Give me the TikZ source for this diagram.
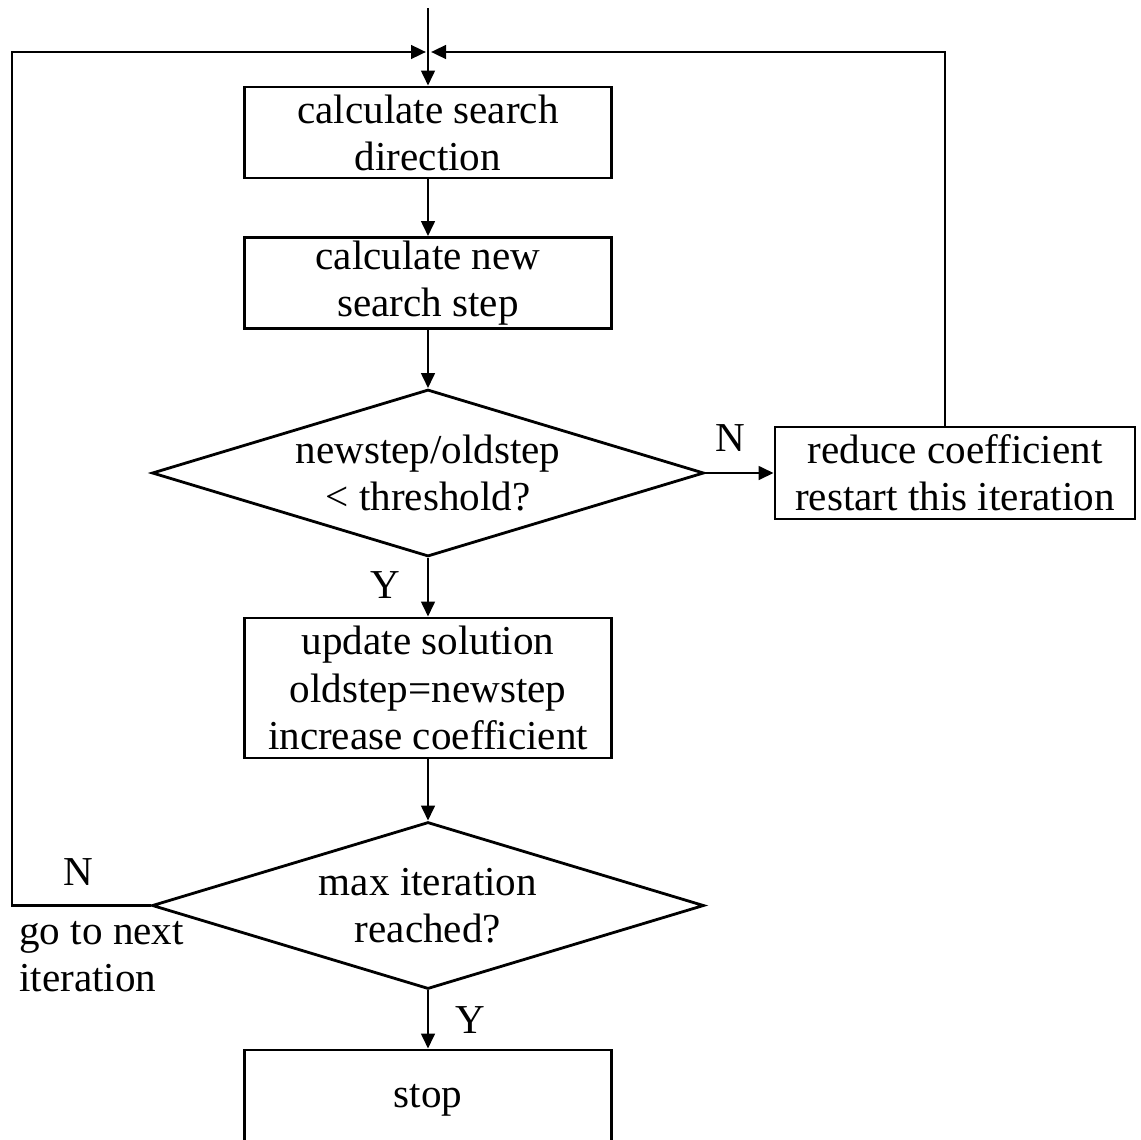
\documentclass[tikz,border=0pt]{standalone}
\usepackage{fontspec}
\setmainfont{Liberation Serif}
\usetikzlibrary{shapes.geometric,arrows.meta}
\tikzset{
  stepbox/.style={draw, rectangle, minimum width=7.34cm, minimum height=1.82cm, align=center, inner sep=0pt},
  decide/.style={draw, diamond, aspect=3.3, minimum width=11.04cm, minimum height=3.34cm, align=center, inner sep=0pt},
  lbl/.style={inner sep=0pt}
}
\begin{document}
\begin{tikzpicture}[x=0.02cm, y=-0.02cm, line width=1.6pt, >={Triangle[length=0.3cm,width=0.27cm]}, font=\fontsize{23.4}{26.8}\selectfont]
			\useasboundingbox (0,0) rectangle (1141,1139);
			\clip (0,0) rectangle (1141,1139);
			% boxes and decisions
			\node[stepbox] (dir) at (428,132.5) {calculate search\\direction};
			\node[stepbox] (newstep) at (428,283) {calculate new\\search step};
			\node[decide] (ratio) at (428,473) {newstep/oldstep\\< threshold?};
			\node[stepbox, minimum width=7.2cm, minimum height=1.84cm] (reduce) at (955,473) {reduce coefficient\\restart this iteration};
			\node[stepbox, minimum height=2.8cm] (update) at (428,688) {update solution\\oldstep=newstep\\increase coefficient};
			\node[decide] (maxit) at (428,905.5) {max iteration\\reached?};
			\node[stepbox, minimum height=2.0cm] (stop) at (428,1100) {stop};
			% labels
			\node[lbl] (nratio) at (730,438) {N};
			\node[lbl] (yratio) at (385,585) {Y};
			\node[lbl] (nmaxit) at (78,872) {N};
			\node[lbl, align=left, anchor=north west] (next) at (18,920) {go to next\\iteration};
			\node[lbl] (ymaxit) at (470,1020) {Y};
			% loop points
			\coordinate (start) at (428,8);
			\coordinate (jl) at (426,52);
			\coordinate (jr) at (431,52);
			\coordinate (lc) at (12,52);
			\coordinate (rc) at (945,52);
			% connectors
			\draw[->] (start) -- (dir);
			\draw[->] (dir) -- (newstep);
			\draw[->] (newstep) -- (ratio);
			\draw[->] (ratio.east) -- (reduce.west);
			\draw[->] (rc |- reduce.north) -- (rc) -- (jr);
			\draw[->] (ratio) -- (update);
			\draw[->] (update) -- (maxit);
			\draw[->] (maxit.west) -| (lc) -- (jl);
			\draw[->] (maxit) -- (stop);
		\end{tikzpicture}
\end{document}
